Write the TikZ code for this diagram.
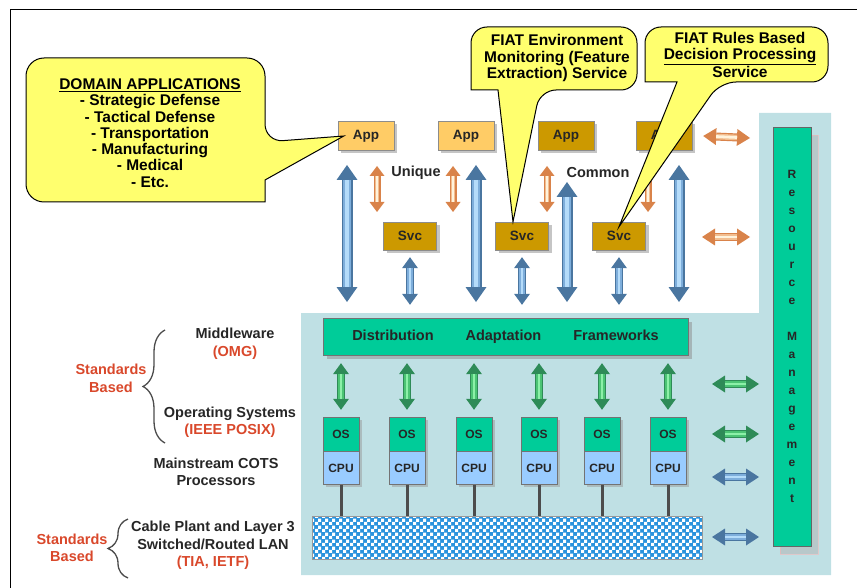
\documentclass[tikz,border=0pt]{standalone}
\usepackage{fontspec}
\setmainfont{Liberation Sans}
\usepackage{tikz}
\usetikzlibrary{arrows.meta,positioning,calc,shadows,patterns,decorations.pathreplacing}

\definecolor{appltc}{HTML}{FFCC66}
\definecolor{appdkc}{HTML}{CC9900}
\definecolor{grnc}{HTML}{00CC99}
\definecolor{cpuc}{HTML}{99CCFF}
\definecolor{bgc}{HTML}{BFE0E4}
\definecolor{lanc}{HTML}{2A93DD}
\definecolor{bubc}{HTML}{FFFF6E}
\definecolor{stdred}{HTML}{D9482B}
\definecolor{bluedk}{HTML}{4A76A0}
\definecolor{bluemd}{HTML}{7EAEDB}
\definecolor{bluelt}{HTML}{B5DCFA}
\definecolor{orgdk}{HTML}{D9834A}
\definecolor{orgmd}{HTML}{F2BE90}
\definecolor{orglt}{HTML}{FFF3DC}
\definecolor{grndk}{HTML}{2E8B57}
\definecolor{grnmd}{HTML}{4CC474}
\definecolor{grnlt}{HTML}{8CF0A8}

% small blue/white checks for the LAN bar
\pgfdeclarepatternformonly{lanchecks}{\pgfpointorigin}{\pgfqpoint{7pt}{7pt}}{\pgfqpoint{7pt}{7pt}}{%
  \pgfpathrectangle{\pgfpointorigin}{\pgfqpoint{3.5pt}{3.5pt}}%
  \pgfpathrectangle{\pgfqpoint{3.5pt}{3.5pt}}{\pgfqpoint{3.5pt}{3.5pt}}%
  \pgfusepath{fill}}

\begin{document}
\begin{tikzpicture}[x=1pt,y=-1pt,
  every node/.style={font=\bfseries\fontsize{14.5}{17.5}\selectfont,text=black!85,inner sep=0pt},
  lbl/.style={align=center},
  stdlbl/.style={align=center,text=stdred},
  app/.style={draw=black!45,fill=appltc,minimum width=56pt,minimum height=29pt,
    font=\bfseries\fontsize{13.5}{16}\selectfont,
    drop shadow={shadow xshift=3pt,shadow yshift=-3pt,fill=black!45}},
  appdk/.style={app,fill=appdkc},
  svc/.style={app,fill=appdkc,minimum width=53pt,minimum height=28pt},
  osbox/.style={draw=black!55,fill=grnc,minimum width=36pt,minimum height=34pt,
    font=\bfseries\fontsize{12}{14}\selectfont,
    drop shadow={shadow xshift=3pt,shadow yshift=-3pt,fill=black!40}},
  cpubox/.style={osbox,fill=cpuc,minimum height=33pt},
  mwbar/.style={draw=black!55,fill=grnc,minimum width=365pt,minimum height=37pt,
    drop shadow={shadow xshift=4pt,shadow yshift=-4pt,fill=black!45}},
  rmbar/.style={draw=black!60,fill=grnc,minimum width=38pt,minimum height=419pt,align=center,
    font=\bfseries\fontsize{12}{18}\selectfont,
    drop shadow={shadow xshift=7pt,shadow yshift=-8pt,fill=black!30,draw=red!30}},
  lanbar/.style={draw=black!40,minimum width=390pt,minimum height=43pt,
    preaction={fill=lanc},pattern=lanchecks,pattern color=white},
  lanlink/.style={draw=black!70,line width=3pt},
  brc/.style={decorate,draw=black!70,line width=1.3pt},
  bubble/.style={draw=black,line width=1pt,fill=bubc},
  bubtext/.style={align=center,font=\bfseries\fontsize{15.5}{16.3}\selectfont,text=black},
  fatarr/.style n args={4}{line width=#2,draw=#1dk,
    {Triangle[width=#3,length=#4,line width=0pt]}-{Triangle[width=#3,length=#4,line width=0pt]},
    postaction={draw=#1md,line width=0.7*#2,arrows=-,shorten <=#4,shorten >=#4},
    postaction={draw=#1lt,line width=0.35*#2,arrows=-,shorten <=#4,shorten >=#4}},
  bigblue/.style={fatarr={blue}{11pt}{21pt}{15pt}},
  smblue/.style={fatarr={blue}{7.5pt}{16pt}{11pt}},
  orgv/.style={fatarr={org}{7pt}{15pt}{10pt}},
  grnv/.style={fatarr={grn}{7.5pt}{16pt}{11pt}},
  orgh/.style={fatarr={org}{8pt}{17pt}{13pt}},
  grnh/.style={fatarr={grn}{8pt}{17pt}{13pt}},
  blueh/.style={fatarr={blue}{8pt}{17pt}{13pt}}
]
  \useasboundingbox (0,0) rectangle (857,588);
  \draw[line width=1pt] (10,588) -- (10,10) -- (857,10);

  % light blue platform area
  \fill[bgc] (759,113) -- (831,113) -- (831,575) -- (301,575) -- (301,313) -- (759,313) -- cycle;

  \node[rmbar] (rm) at (792,336.5) {R\\e\\s\\o\\u\\r\\c\\e\\[18pt]M\\a\\n\\a\\g\\e\\m\\e\\n\\t};
  \node[mwbar] (mw) at (505.5,336.5) {Distribution\hspace{32pt}Adaptation\hspace{32pt}Frameworks};
  \node[lanbar] (lan) at (507,537.5) {};

  \foreach \x [count=\i] in {341,407,474,539,602,668} {
    \node[osbox] (os\i) at (\x,434) {OS};
    \node[cpubox,below=0pt of os\i] (cpu\i) {CPU};
    \draw[lanlink] (cpu\i.south) -- (cpu\i.south |- lan.north);
    \draw[grnv] ($(os\i.north |- mw.south)+(0,8)$) -- ($(os\i.north)+(0,-7)$);
  }

  % applications and services
  \node[app] (app1) at (366,136) {App};
  \node[app] (app2) at (466,136) {App};
  \node[appdk] (app3) at (566,136) {App};
  \node[appdk] (app4) at (664,136) {App};
  \node[svc] (svc1) at (410,236) {Svc};
  \node[svc] (svc2) at (522,236) {Svc};
  \node[svc] (svc3) at (619,236) {Svc};
  \node (uniq) at (416,173) {Unique};
  \node (comm) at (598,173) {Common};

  \foreach \x in {347,476,679}
    \draw[bigblue] (\x,165) -- (\x,302);
  \draw[bigblue] (567,182) -- (567,302);
  \foreach \x in {377,453,547,648}
    \draw[orgv] (\x,166) -- (\x,212);
  \foreach \i in {1,2,3}
    \draw[smblue] ($(svc\i.south)+(0,7)$) -- ($(svc\i.south |- mw.north)+(0,-13)$);

  % links to resource management
  \draw[orgh] ($(app4.east)+(11,0)$) -- (750,138);
  \draw[orgh] (702,237) -- (750,237);
  \draw[grnh] (712,384) -- (759,384);
  \draw[grnh] (712,434) -- (759,434);
  \draw[blueh] (712,477) -- (759,477);
  \draw[blueh] (712,537) -- (759,537);

  % left side labels
  \node[lbl] (mwlbl) at (235,344) {Middleware\\\textcolor{stdred}{(OMG)}};
  \node[lbl] (oslbl) at (230,422) {Operating Systems\\\textcolor{stdred}{(IEEE POSIX)}};
  \node[lbl] (cotslbl) at (216,472) {Mainstream COTS\\Processors};
  \node[lbl] (lanlbl) at (213,545.5) {Cable Plant and Layer 3\\Switched/Routed LAN\\\textcolor{stdred}{(TIA, IETF)}};
  \node[stdlbl] (std1) at (111,378.5) {Standards\\Based};
  \node[stdlbl] (std2) at (72,548) {Standards\\Based};
  \draw[brc,decoration={brace,amplitude=22pt}] (165,443) -- (165,330);
  \draw[brc,decoration={brace,amplitude=20pt}] (128,578) -- (128,519);

  % callouts
  \draw[bubble] (145,58) [rounded corners=18pt] -- (265,58) -- (265,142) [sharp corners]
    -- ($(app1.west)+(6,0)$) -- (265,180) -- (265,202) [rounded corners=18pt] -- (26,202) -- (26,58) -- cycle;
  \node[bubtext] (domtxt) at (150,133) {\underline{DOMAIN APPLICATIONS}\\- Strategic Defense\\- Tactical Defense\\- Transportation\\- Manufacturing\\- Medical\\- Etc.};
  \draw[bubble] (554,27) [rounded corners=16pt] -- (637,27) -- (637,90) -- (540,90) [sharp corners]
    -- ($(svc2.north)+(-9,0)$) -- (498,90) -- (471,90) [rounded corners=16pt] -- (471,27) -- cycle;
  \node[bubtext] (envtxt) at (557,58) {FIAT Environment\\Monitoring (Feature\\Extraction) Service};
  \draw[bubble] (736,27) [rounded corners=16pt] -- (828,27) -- (828,82) -- (720,82) [sharp corners]
    -- ($(svc3.north)+(0,5)$) -- (677,82) -- (645,82) [rounded corners=16pt] -- (645,27) -- cycle;
  \node[bubtext] (rulestxt) at (740,55) {FIAT Rules Based\\\underline{Decision Processing}\\Service};
\end{tikzpicture}
\end{document}
